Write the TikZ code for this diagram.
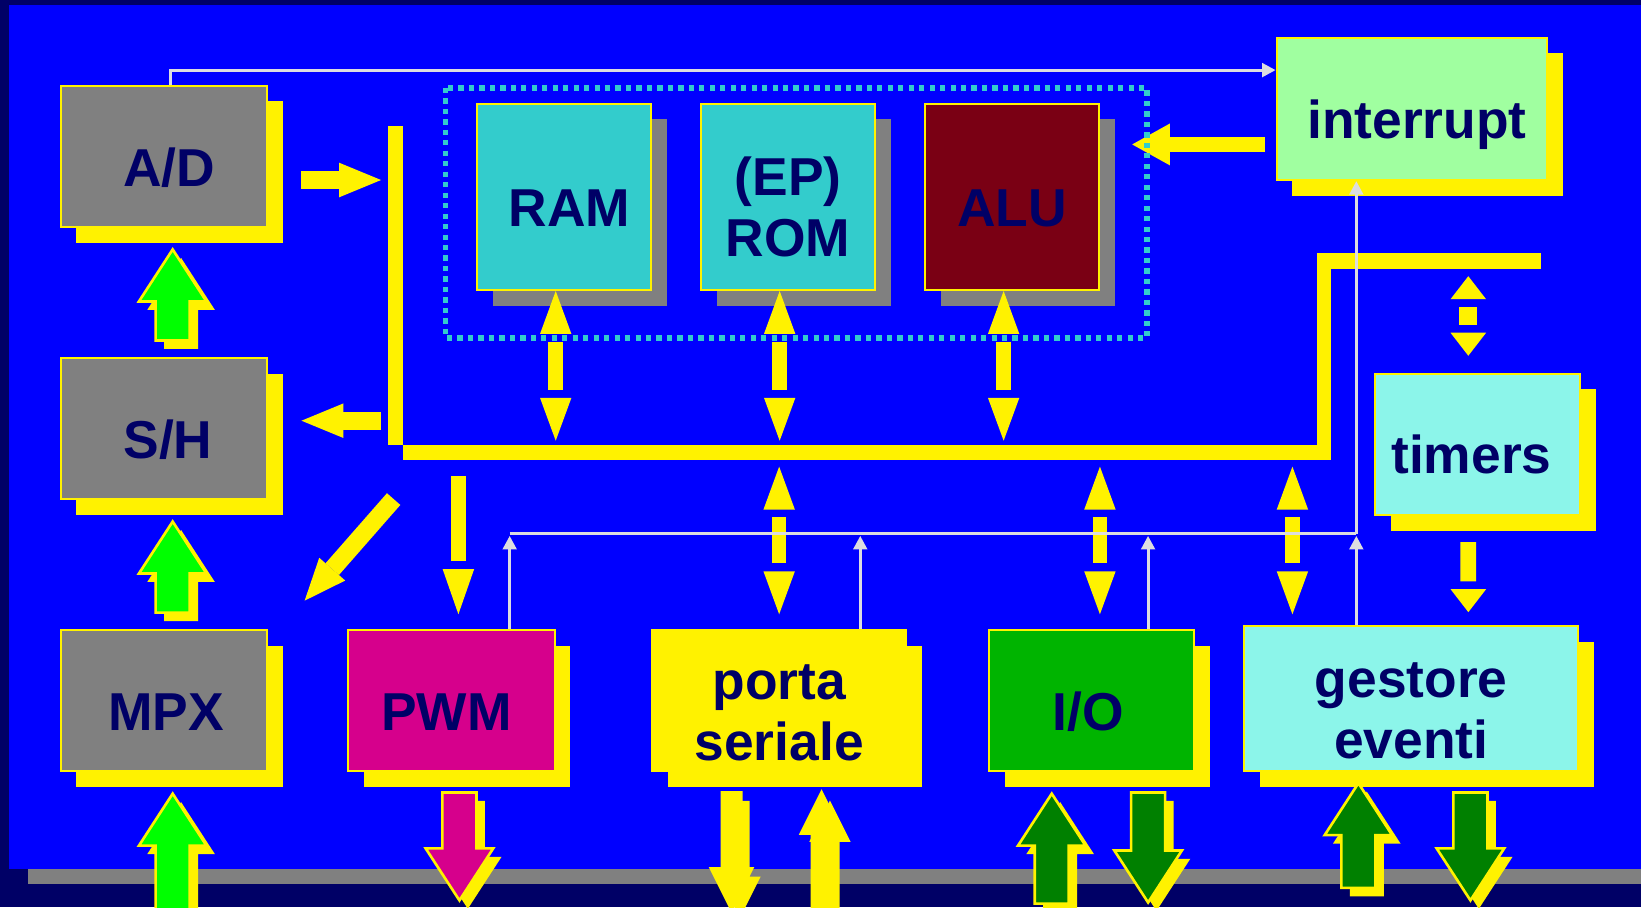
\documentclass[tikz,border=0pt]{standalone}
\usepackage{fontspec}
\setmainfont{Liberation Sans}
\usetikzlibrary{
    arrows.meta,
    shapes.arrows,
    shadows,
    calc
}
\definecolor{navy}{RGB}{0,0,102}
\definecolor{slideblue}{RGB}{0,0,255}
\definecolor{boxgray}{RGB}{128,128,128}
\definecolor{memcyan}{RGB}{51,204,204}
\definecolor{alured}{RGB}{122,0,20}
\definecolor{intgreen}{RGB}{160,255,160}
\definecolor{palecyan}{RGB}{140,245,234}
\definecolor{pwmpink}{RGB}{214,0,140}
\definecolor{iogreen}{RGB}{0,180,0}
\definecolor{lime}{RGB}{0,255,0}
\definecolor{darkgreen}{RGB}{0,128,0}
\definecolor{siggray}{RGB}{220,220,224}
\tikzset{
  boxbase/.style = {draw=yellow, line width=0.2mm, inner sep=0pt, align=center,
                    text=navy, font=\fontsize{14.5}{16.5}\selectfont\bfseries,
                    minimum width=1.97cm, minimum height=1.35cm},
  box/.style     = {boxbase,
                    general shadow={fill=yellow, shadow xshift=1.5mm, shadow yshift=-1.5mm}},
  mem/.style     = {boxbase, fill=memcyan, minimum width=1.66cm, minimum height=1.78cm,
                    general shadow={fill=boxgray, shadow xshift=1.5mm, shadow yshift=-1.5mm}},
  oneline/.style = {text height=5.65mm, text depth=0pt},
  twoline/.style = {text height=11.45mm, text depth=0pt},
  nudge/.style   = {execute at begin node={\hspace*{#1}}},
  yarr/.style    = {draw=yellow, line width=1.7mm,
                    -{Triangle[length=4mm, width=3.3mm, line width=0pt]}},
  yhead/.style 2 args = {draw=yellow, line width=0.1mm,
                    -{Triangle[length=#1, width=#2, line width=0pt]}},
  blk/.style     = {single arrow, draw=yellow, line width=0.25mm, inner sep=1.5mm,
                    single arrow head extend=1.6mm, single arrow tip angle=66,
                    minimum height=#1,
                    general shadow={fill=yellow, shadow xshift=0.8mm, shadow yshift=-0.8mm}},
  thin/.style    = {blk=#1, inner sep=0.8mm, single arrow head extend=1.05mm,
                    single arrow tip angle=53, fill=yellow},
  up/.style      = {shape border rotate=90, anchor=tip},
  down/.style    = {shape border rotate=270, anchor=tail},
  sigline/.style = {draw=siggray, line width=0.3mm},
  sig/.style     = {sigline, -{Triangle[length=1.3mm, width=1.3mm]}},
  cpubox/.style  = {draw=memcyan, line width=0.5mm, dash pattern=on 0.5mm off 0.5mm}
}
% shaft with a gap before the head: from, to, head length, head width, shaft width
\newcommand\gapline[5]{%
  \draw[yellow, line width=#5, shorten >=#3+0.75mm] (#1) -- (#2);
  \draw[yhead={#3}{#4}] ($(#2)!#3!(#1)$) -- (#2);}
\newcommand\busdbl[2]{%
  \coordinate (mid) at ($(#1)!0.5!(#2)$);
  \gapline{mid}{#1}{4.1mm}{3mm}{1.4mm}
  \gapline{mid}{#2}{4.1mm}{3mm}{1.4mm}}

\begin{document}
\begin{tikzpicture}[x=0.01cm, y=-0.01cm]
  \useasboundingbox (0,0) rectangle (1568,867);
  \clip (0,0) rectangle (1568,867);
  % slide background
  \fill[navy] (0,0) rectangle (1568,867);
  \fill[boxgray] (27,20) rectangle (1600,845);
  \fill[slideblue] (9,5) rectangle (1590,830);

  % internal bus
  \fill[yellow] (371,120) rectangle (385,425);
  \fill[yellow] (385,425) rectangle (1272,440);
  \fill[yellow] (1258,242) rectangle (1272,425);
  \fill[yellow] (1258,242) rectangle (1472,257);

  % blocks
  \node[box, oneline, nudge=1mm, fill=boxgray] (ad)  at (156.5,149.5) {A/D};
  \node[box, oneline, nudge=0.8mm, fill=boxgray] (sh)  at (156.5,409.5) {S/H};
  \node[box, oneline, nudge=0.4mm, fill=boxgray] (mpx) at (156.5,669.5) {MPX};
  \node[mem, oneline, nudge=1mm] (ram) at (539,188) {RAM};
  \node[mem, twoline] (rom) at (753,188) {(EP)\\ROM};
  \node[mem, oneline, fill=alured] (alu) at (967,188) {ALU};
  \node[box, oneline, nudge=1mm, fill=intgreen, minimum width=2.58cm, minimum height=1.36cm]
       (intr) at (1349,104) {interrupt};
  \node[box, oneline, nudge=-1.2mm, fill=palecyan, minimum width=1.96cm] (tim) at (1412,424.5) {timers};
  \node[box, oneline, nudge=-1mm, fill=pwmpink] (pwm) at (431.5,669.5) {PWM};
  \node[box, twoline, fill=yellow, minimum width=2.43cm] (ser) at (744.5,669.5) {porta\\seriale};
  \node[box, oneline, nudge=-0.6mm, fill=iogreen, minimum width=1.96cm] (io) at (1043,669.5) {I/O};
  \node[box, twoline, fill=palecyan, minimum width=3.19cm, minimum height=1.39cm]
       (gest) at (1348.5,667.5) {gestore\\eventi};

  % yellow data paths
  \draw[yarr] ([xshift=3.2mm,yshift=-2.25mm]ad.east) -- ([xshift=10.8mm,yshift=-2.25mm]ad.east);
  \draw[yarr] ([xshift=10.8mm,yshift=0.75mm]sh.east) -- ([xshift=3.2mm,yshift=0.75mm]sh.east);
  \draw[yarr] ([xshift=12mm,yshift=12.4mm]mpx.north east) -- ([xshift=3.5mm,yshift=2.7mm]mpx.north east);
  \draw[yarr, line width=1.5mm, -{Triangle[length=3.6mm, width=4mm, line width=0pt]}]
       ([xshift=-1mm,yshift=-3.4mm]intr.west) -- ([xshift=-13.7mm,yshift=-3.4mm]intr.west);

  \coordinate (ramT)  at ([xshift=-0.8mm]ram.south);
  \coordinate (ramB)  at ([xshift=-0.8mm,yshift=-14.3mm]ram.south);
  \coordinate (romT)  at ([xshift=-0.8mm]rom.south);
  \coordinate (romB)  at ([xshift=-0.8mm,yshift=-14.3mm]rom.south);
  \coordinate (aluT)  at ([xshift=-0.8mm]alu.south);
  \coordinate (aluB)  at ([xshift=-0.8mm,yshift=-14.3mm]alu.south);
  \coordinate (serT)  at ([yshift=15.5mm]ser.north);
  \coordinate (serB)  at ([yshift=1.4mm]ser.north);
  \coordinate (ioT)   at ([xshift=0.8mm,yshift=15.5mm]io.north);
  \coordinate (ioB)   at ([xshift=0.8mm,yshift=1.4mm]io.north);
  \coordinate (gestT) at ([xshift=-11.35mm,yshift=15.1mm]gest.north);
  \coordinate (gestB) at ([xshift=-11.35mm,yshift=1mm]gest.north);
  \busdbl{ramT}{ramB}
  \busdbl{romT}{romB}
  \busdbl{aluT}{aluB}
  \busdbl{serT}{serB}
  \busdbl{ioT}{ioB}
  \busdbl{gestT}{gestB}
  \gapline{[xshift=0.65mm,yshift=14.6mm]pwm.north}{[xshift=0.65mm,yshift=1.4mm]pwm.north}{4.3mm}{3mm}{1.4mm}

  \coordinate (timT) at ([xshift=-0.9mm,yshift=9.2mm]tim.north);
  \coordinate (timB) at ([xshift=-0.9mm,yshift=1.6mm]tim.north);
  \coordinate (mid) at ($(timT)!0.5!(timB)$);
  \gapline{mid}{timT}{2.2mm}{3.4mm}{1.7mm}
  \gapline{mid}{timB}{2.2mm}{3.4mm}{1.7mm}
  \gapline{[xshift=-0.9mm,yshift=-2.5mm]tim.south}{[xshift=5.45mm,yshift=1.2mm]gest.north}{2.2mm}{3.4mm}{1.5mm}

  % external signals
  \node[blk=0.87cm, up, fill=lime] (shad)  at ([xshift=0.85mm,yshift=-1.8mm]ad.south) {};
  \node[blk=0.87cm, up, fill=lime] (mpxsh) at ([xshift=0.85mm,yshift=-1.8mm]sh.south) {};
  \node[blk=1.15cm, up, fill=lime] (mpxin) at ([xshift=0.85mm,yshift=-1.8mm]mpx.south) {};
  \node[blk=1.03cm, down, fill=pwmpink] (pwmout) at ([xshift=0.75mm,yshift=-1.8mm]pwm.south) {};
  \node[thin=1.12cm, down] (tx) at ([xshift=-4.55mm,yshift=-1.8mm]ser.south) {};
  \node[thin=1.17cm, up] (rx) at ([xshift=4.05mm,yshift=-1.6mm]ser.south) {};
  \node[blk=1.05cm, up, fill=darkgreen] (ioin) at ([xshift=-3.8mm,yshift=-1.8mm]io.south) {};
  \node[blk=1.05cm, down, fill=darkgreen] (ioout) at ([xshift=5.4mm,yshift=-1.8mm]io.south) {};
  \node[blk=1.0cm, up, fill=darkgreen] (evin) at ([xshift=-5.05mm,yshift=-0.8mm]gest.south) {};
  \node[blk=1.03cm, down, fill=darkgreen] (evout) at ([xshift=5.65mm,yshift=-1.8mm]gest.south) {};

  % interrupt requests
  \coordinate (sigL) at (487,510);
  \coordinate (sigS) at (822,510);
  \coordinate (sigI) at (1097,510);
  \coordinate (sigR) at (1296,510);
  \draw[sigline] (sigL) -- (sigR);
  \draw[sig] (sigR) -- (intr.south -| sigR);
  \draw[sig] (pwm.north -| sigL) -- ([yshift=-0.2mm]sigL);
  \draw[sig] (ser.north -| sigS) -- ([yshift=-0.2mm]sigS);
  \draw[sig] (io.north -| sigI) -- ([yshift=-0.2mm]sigI);
  \draw[sig] (gest.north -| sigR) -- ([yshift=-0.2mm]sigR);
  \draw[sig] ([xshift=0.65mm]ad.north) |- ([yshift=3.7mm]intr.west);

  % CPU core
  \draw[cpubox] (426,84) rectangle (1096,323);
\end{tikzpicture}
\end{document}
